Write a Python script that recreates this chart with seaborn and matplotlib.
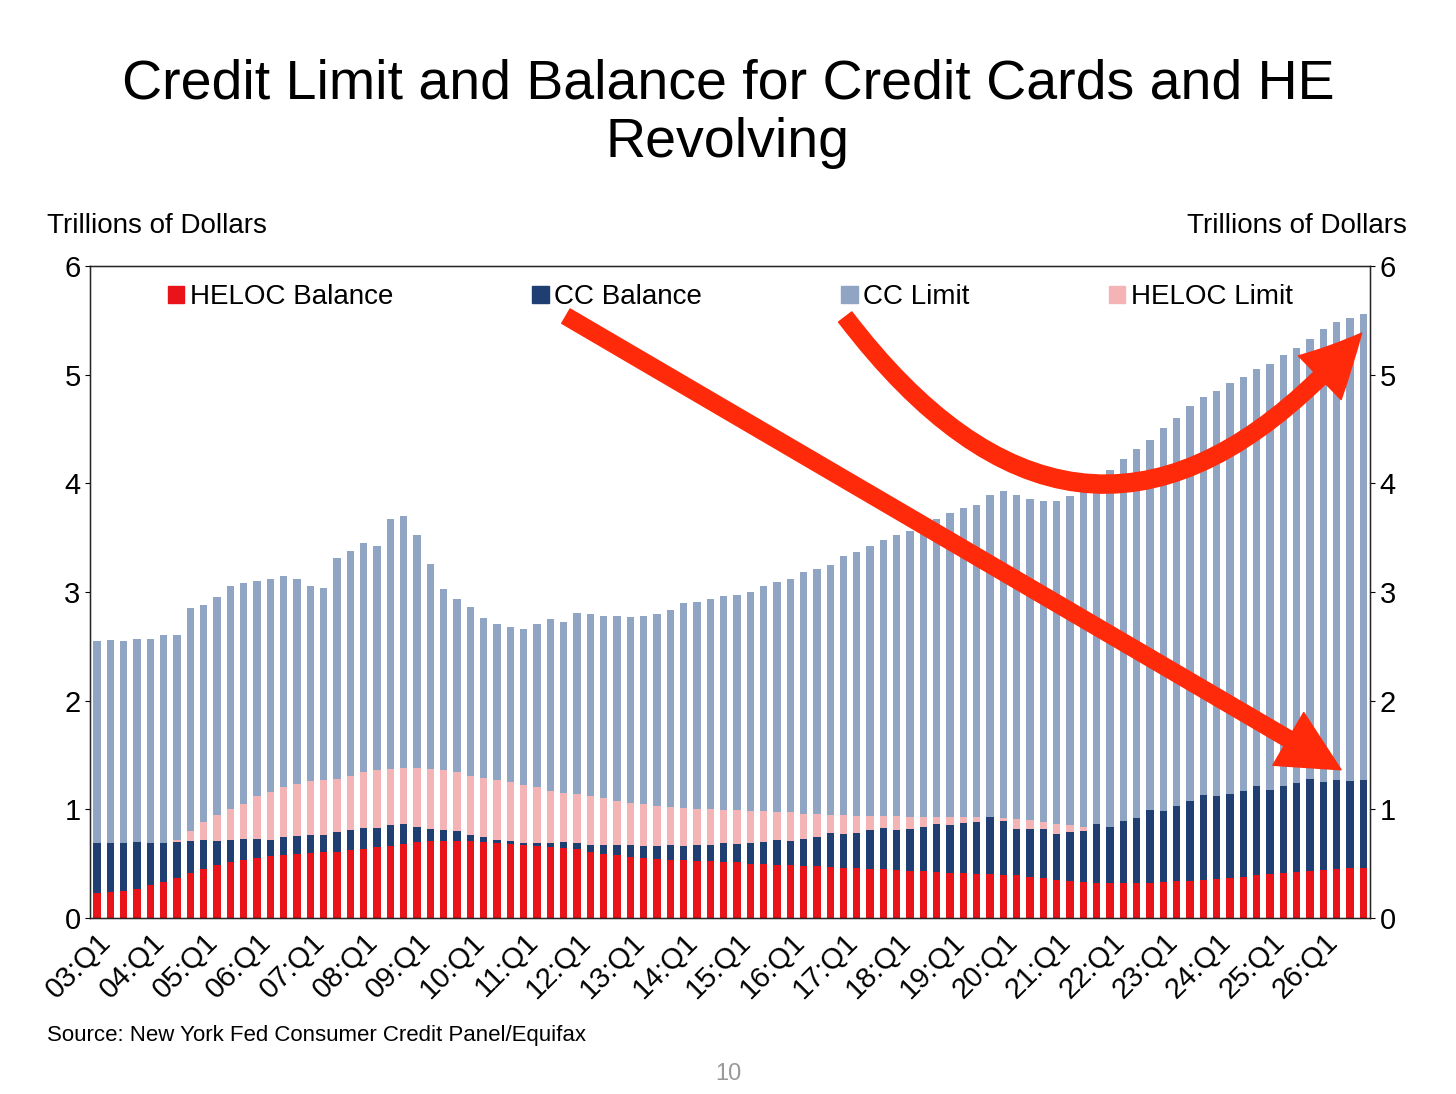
import matplotlib
matplotlib.use("Agg")
import matplotlib.pyplot as plt
import seaborn as sns
import pandas as pd
from matplotlib.patches import FancyArrowPatch, Patch

sns.set_style("white")
plt.rcParams['font.family'] = ['Liberation Sans', 'DejaVu Sans']
plt.rcParams['text.color'] = 'black'
plt.rcParams['xtick.color'] = 'black'
plt.rcParams['ytick.color'] = 'black'

years = list(range(3, 27))
quarters = [f"{y:02d}:Q{q}" for y in years for q in range(1, 5)]

cc_limit = [2.55,2.56,2.55,2.57, 2.57,2.60,2.60,2.85, 2.88,2.95,3.05,3.08, 3.10,3.12,3.15,3.12,
            3.05,3.04,3.31,3.38, 3.45,3.42,3.67,3.70, 3.52,3.26,3.03,2.93, 2.86,2.76,2.70,2.68,
            2.66,2.70,2.75,2.72, 2.81,2.80,2.78,2.78, 2.77,2.78,2.80,2.83, 2.90,2.91,2.93,2.96,
            2.97,3.00,3.05,3.09, 3.12,3.18,3.21,3.25, 3.33,3.37,3.42,3.48, 3.52,3.56,3.62,3.67,
            3.73,3.77,3.80,3.89, 3.93,3.89,3.85,3.84, 3.84,3.88,3.95,4.05, 4.12,4.22,4.31,4.40,
            4.51,4.60,4.71,4.79, 4.85,4.92,4.98,5.05, 5.10,5.18,5.24,5.33, 5.42,5.48,5.52,5.56]
heloc_limit = [0.47,0.52,0.55,0.58, 0.62,0.66,0.72,0.80, 0.88,0.95,1.00,1.05, 1.12,1.16,1.20,1.23,
               1.26,1.27,1.28,1.31, 1.34,1.36,1.37,1.38, 1.38,1.37,1.36,1.34, 1.31,1.29,1.27,1.25,
               1.22,1.20,1.17,1.15, 1.14,1.12,1.10,1.08, 1.06,1.05,1.03,1.02, 1.01,1.00,1.00,0.99,
               0.99,0.98,0.98,0.97, 0.97,0.96,0.96,0.95, 0.95,0.94,0.94,0.94, 0.94,0.93,0.93,0.93,
               0.93,0.93,0.93,0.92, 0.92,0.91,0.90,0.88, 0.86,0.85,0.84,0.84, 0.84,0.85,0.86,0.88,
               0.89,0.90,0.91,0.93, 0.94,0.96,0.97,0.98, 0.99,1.00,1.01,1.02, 1.03,1.04,1.05,1.05]
cc_balance = [0.69,0.69,0.69,0.70, 0.69,0.69,0.70,0.71, 0.72,0.71,0.72,0.73, 0.73,0.72,0.74,0.75,
              0.76,0.76,0.79,0.81, 0.83,0.83,0.85,0.86, 0.84,0.82,0.81,0.80, 0.76,0.74,0.72,0.71,
              0.69,0.69,0.69,0.70, 0.69,0.67,0.67,0.67, 0.67,0.66,0.66,0.67, 0.66,0.67,0.67,0.69,
              0.68,0.69,0.70,0.72, 0.71,0.73,0.74,0.78, 0.77,0.78,0.81,0.83, 0.81,0.82,0.84,0.86,
              0.85,0.87,0.88,0.93, 0.89,0.82,0.82,0.82, 0.77,0.79,0.80,0.86, 0.84,0.89,0.92,0.99,
              0.98,1.03,1.08,1.13, 1.12,1.14,1.17,1.21, 1.18,1.21,1.24,1.28, 1.25,1.27,1.26,1.27]
heloc_balance = [0.23,0.24,0.25,0.27, 0.30,0.33,0.37,0.41, 0.45,0.49,0.51,0.53, 0.55,0.57,0.58,0.59,
                 0.60,0.61,0.61,0.62, 0.63,0.65,0.66,0.68, 0.70,0.71,0.71,0.71, 0.71,0.70,0.69,0.68,
                 0.67,0.66,0.65,0.64, 0.63,0.61,0.59,0.58, 0.56,0.55,0.54,0.53, 0.53,0.52,0.52,0.51,
                 0.51,0.50,0.50,0.49, 0.49,0.48,0.48,0.47, 0.46,0.46,0.45,0.45, 0.44,0.43,0.43,0.42,
                 0.41,0.41,0.40,0.40, 0.39,0.39,0.38,0.37, 0.35,0.34,0.33,0.32, 0.32,0.32,0.32,0.32,
                 0.33,0.34,0.34,0.35, 0.36,0.37,0.38,0.39, 0.40,0.41,0.42,0.43, 0.44,0.45,0.46,0.46]

series = [("CC Limit", cc_limit, "#8fa5c3"), ("HELOC Limit", heloc_limit, "#f4b3b5"),
          ("CC Balance", cc_balance, "#1f3f73"), ("HELOC Balance", heloc_balance, "#e8141a")]

fig = plt.figure(figsize=(14.56, 10.94), dpi=100)
ax = fig.add_axes([0.062, 0.161, 0.879, 0.596])
for name, vals, col in series:
    df = pd.DataFrame({"q": quarters, "v": vals})
    sns.barplot(data=df, x="q", y="v", order=quarters, color=col, width=0.55,
                saturation=1, ax=ax, errorbar=None, linewidth=0, edgecolor="none")

ax.set_xlim(-0.5, len(quarters) - 0.5)
ax.set_ylim(0, 6)
ax.set_xlabel(""); ax.set_ylabel("")
ax.set_xticks(range(0, len(quarters), 4))
ax.set_xticklabels(quarters[::4], rotation=45, ha="right", rotation_mode="anchor", fontsize=21)
ax.tick_params(axis="y", labelsize=21)
for s in ax.spines.values():
    s.set_color("black"); s.set_linewidth(1)
ax2 = ax.twinx()
ax2.set_ylim(0, 6)
ax2.tick_params(axis="y", labelsize=21)

handles = [Patch(color=c) for _, _, c in [series[3], series[2], series[0], series[1]]]
labels = ["HELOC Balance", "CC Balance", "CC Limit", "HELOC Limit"]
ax.legend(handles, labels, loc="upper center", ncol=4, frameon=False, fontsize=20,
          handlelength=0.6, handleheight=0.6, handletextpad=0.2, columnspacing=5,
          bbox_to_anchor=(0.5, 1.01))

red = "#ff2a0a"
ax.add_patch(FancyArrowPatch((35, 5.55), (93.5, 1.35), arrowstyle="simple,head_width=2.2,head_length=2.2,tail_width=0.6",
                             mutation_scale=20, color=red, zorder=10))
ax.add_patch(FancyArrowPatch((56, 5.55), (95, 5.4), connectionstyle="arc3,rad=0.62",
                             arrowstyle="simple,head_width=2.2,head_length=2.2,tail_width=0.6",
                             mutation_scale=20, color=red, zorder=10))

fig.text(0.5, 0.896, "Credit Limit and Balance for Credit Cards and HE\nRevolving", ha="center",
         va="center", fontsize=40, linespacing=1.15)
fig.text(0.032, 0.787, "Trillions of Dollars", fontsize=20)
fig.text(0.966, 0.787, "Trillions of Dollars", fontsize=20, ha="right")
fig.text(0.032, 0.048, "Source: New York Fed Consumer Credit Panel/Equifax", fontsize=16)
fig.text(0.5, 0.013, "10", fontsize=17, color="#999999", ha="center")
fig.savefig("out.png", dpi=100)
